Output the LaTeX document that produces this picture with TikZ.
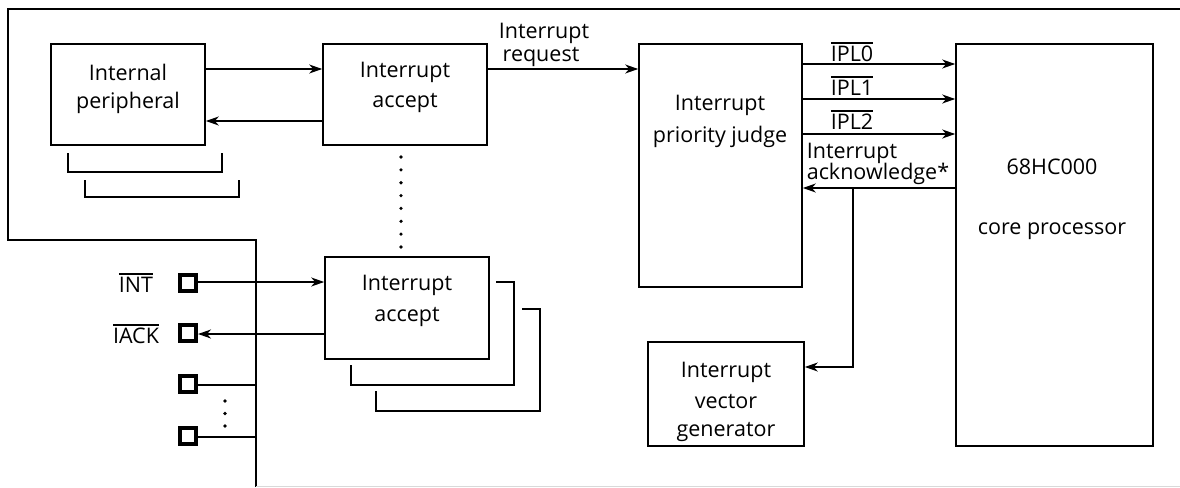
\documentclass[tikz,border=0pt]{standalone}
\usepackage{fontspec}
\setmainfont{Open Sans}
\usetikzlibrary{arrows.meta,calc}
\newcommand{\ovl}[1]{\setbox0\hbox{#1}\rlap{\raise\dimexpr\ht0+2.5pt\relax\hbox{\rule{\wd0}{1.3pt}}}\box0}
\begin{document}
\begin{tikzpicture}[x=1pt,y=-1pt,
  every path/.style={line width=1.6pt},
  box/.style={draw,line width=1.6pt,inner sep=0pt},
  txt/.style={inner sep=0pt,font=\fontsize{21.5}{24}\selectfont},
  pin/.style={draw,line width=4pt,minimum size=16pt,inner sep=0pt},
  arr/.style={-{Stealth[length=13pt,width=9pt,inset=4pt]}},
  dot/.style={fill,circle,inner sep=0pt,minimum size=3.6pt}]
\useasboundingbox (0,0) rectangle (1180,487);
% outer frame
\draw (1180,9) -- (8,9) -- (8,240) -- (256,240) -- (256,487);
\draw[black!15,line width=1pt] (256,486) -- (1180,486);
% boxes
\node[box,minimum width=154pt,minimum height=101pt] (ip) at (128,94.5) {};
\node[box,minimum width=164pt,minimum height=101pt] (ia1) at (405,94.5) {};
\node[box,minimum width=163pt,minimum height=243pt] (pj) at (720.5,165.5) {};
\node[box,minimum width=197pt,minimum height=402pt] (core) at (1054.5,245) {};
\node[box,minimum width=164pt,minimum height=102pt] (ia2) at (407,308) {};
\node[box,minimum width=156pt,minimum height=104pt] (vg) at (726,394) {};
% texts
\node[txt] (t1) at (128,72) {Internal};
\node[txt] (t2) at (128,103) {peripheral};
\node[txt] (t3) at (405,72) {Interrupt};
\node[txt] (t4) at (405,103) {accept};
\node[txt] (t5) at (544,33) {Interrupt};
\node[txt] (t6) at (541,57) {request};
\node[txt] (t7) at (720,105) {Interrupt};
\node[txt] (t8) at (720,137) {priority judge};
\node[txt] (t9) at (1052,167) {68HC000};
\node[txt] (t10) at (1052,231) {core processor};
\node[txt] (t11) at (407,285) {Interrupt};
\node[txt] (t12) at (407,317) {accept};
\node[txt] (t13) at (726,372) {Interrupt};
\node[txt] (t14) at (726,402) {vector};
\node[txt] (t15) at (726,432) {generator};
\node[txt,anchor=west] (l0) at (830,52) {\ovl{IPL0}};
\node[txt,anchor=west] (l1) at (830,86) {\ovl{IPL1}};
\node[txt,anchor=west] (l2) at (830,120) {\ovl{IPL2}};
\node[txt,anchor=west] (a1) at (806,153) {Interrupt};
\node[txt,anchor=west] (a2) at (806,174) {acknowledge*};
\node[txt] (int) at (136,283) {\ovl{INT}};
\node[txt] (iack) at (136,334) {\ovl{IACK}};
% connectors top
\draw[arr] (ip.east |- 0,69) -- (ia1.west |- 0,69);
\draw[arr] (ia1.west |- 0,121) -- (ip.east |- 0,121);
\draw[arr] (ia1.east |- 0,69) -- (pj.west |- 0,69);
\draw[arr] (pj.east |- 0,64) -- (core.west |- 0,64);
\draw[arr] (pj.east |- 0,99) -- (core.west |- 0,99);
\draw[arr] (pj.east |- 0,134) -- (core.west |- 0,134);
\draw[arr] (core.west |- 0,188) -- (pj.east |- 0,188);
\coordinate (br) at (853,188);
\draw[arr] (br) -- (853,367) -- (vg.east |- 0,367);
% brackets
\draw (68,153) -- (68,172) -- (222,172) -- (222,153);
\draw (85,180) -- (85,197) -- (239,197) -- (239,180);
\draw (496,282) -- (514,282) -- (514,385) -- (351,385) -- (351,365);
\draw (522,309) -- (540,309) -- (540,411) -- (376,411) -- (376,391);
% dots
\foreach \k in {0,...,7} \node[dot] (d\k) at (401,157+12.86*\k) {};
\node[dot] (e1) at (225,401) {};
\node[dot] (e2) at (225,413.5) {};
\node[dot] (e3) at (225,426) {};
% pins
\node[pin] (p1) at (188,283) {};
\node[pin] (p2) at (188,333) {};
\node[pin] (p3) at (188,384) {};
\node[pin] (p4) at (188,436) {};
\draw[arr] (p1.east |- 0,282) -- (ia2.west |- 0,282);
\draw[arr] (ia2.west |- 0,334) -- (p2.east |- 0,334);
\coordinate (b3) at (256,385);
\coordinate (b4) at (256,437);
\draw (p3.east |- 0,385) -- (b3);
\draw (p4.east |- 0,437) -- (b4);
\end{tikzpicture}
\end{document}
